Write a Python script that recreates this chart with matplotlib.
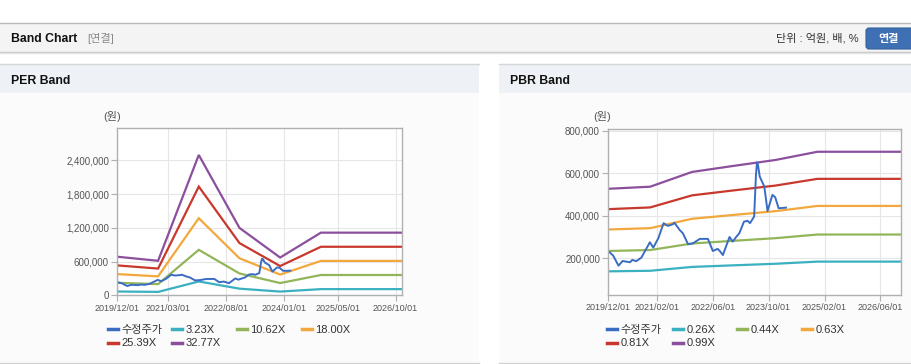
import matplotlib
matplotlib.use('Agg')
import matplotlib.pyplot as plt
import numpy as np
import matplotlib.dates as mdates
from matplotlib.patches import Rectangle, FancyBboxPatch
from matplotlib.lines import Line2D
from matplotlib.ticker import FuncFormatter

FONT = ['Liberation Sans', 'Noto Sans CJK KR', 'DejaVu Sans']
plt.rcParams['font.family'] = FONT

# ---------------- data ----------------
price_dates = ['2019-12-01', '2020-01-13', '2020-02-28', '2020-04-04', '2020-06-07', '2020-06-28',
               '2020-08-01', '2020-09-15', '2020-11-28', '2020-12-28', '2021-02-10', '2021-03-28',
               '2021-05-04', '2021-06-18', '2021-07-01', '2021-08-15', '2021-09-12', '2021-10-28',
               '2021-12-10', '2022-02-07', '2022-04-20', '2022-06-01', '2022-07-13', '2022-08-01',
               '2022-08-28', '2022-10-25', '2022-11-22', '2022-12-22', '2023-01-19', '2023-02-28',
               '2023-04-01', '2023-04-22', '2023-05-28', '2023-06-13', '2023-06-22', '2023-06-28',
               '2023-07-16', '2023-08-25', '2023-09-22', '2023-11-04', '2023-11-28', '2023-12-28',
               '2024-03-01']
price = [234000, 212000, 165000, 187000, 181000, 192000,
         186000, 203000, 275000, 250000, 294000, 365000,
         352000, 360000, 367000, 333000, 318000, 266000,
         270000, 291000, 291000, 234000, 244000, 234000,
         215000, 300000, 278000, 300000, 318000, 372000,
         376000, 365000, 396000, 592000, 651000, 647000,
         584000, 537000, 422000, 498000, 487000, 435000,
         438000]

base_dates = ['2019-12-01', '2020-12-01', '2021-12-01', '2022-12-01', '2023-12-01',
              '2024-12-01', '2026-12-01']
eps = [20960, 18740, 76230, 36620, 20510, 34030, 34030]
bps = [532000, 542000, 612000, 641000, 669000, 708000, 708000]

per_multiples = [3.23, 10.62, 18.00, 25.39, 32.77]
per_labels = ['3.23X', '10.62X', '18.00X', '25.39X', '32.77X']
pbr_multiples = [0.26, 0.44, 0.63, 0.81, 0.99]
pbr_labels = ['0.26X', '0.44X', '0.63X', '0.81X', '0.99X']
price_label = '수정주가'

per_xticks = ['2019-12-01', '2021-03-01', '2022-08-01', '2024-01-01', '2025-05-01', '2026-10-01']
pbr_xticks = ['2019-12-01', '2021-02-01', '2022-06-01', '2023-10-01', '2025-02-01', '2026-06-01']
per_yticks = [0, 600000, 1200000, 1800000, 2400000]
pbr_yticks = [200000, 400000, 600000, 800000]

price_color = '#3b6cc4'
band_colors = ['#3bb0c0', '#93b55a', '#f2a83c', '#c8382c', '#8c4f9e']

# ---------------- figure ----------------
W, H = 912, 364
fig = plt.figure(figsize=(W / 100, H / 100), dpi=100)
fig.patch.set_facecolor('white')

bg = fig.add_axes([0, 0, 1, 1], zorder=-10)
bg.set_xlim(0, W)
bg.set_ylim(H, 0)
bg.axis('off')

# header bar
bg.plot([0, W], [22.5, 22.5], color='#b8b8b8', lw=1)
bg.add_patch(Rectangle((0, 23), W, 29, fc='#f4f4f4', ec='none'))
bg.plot([0, W], [52.2, 52.2], color='#c4c4c4', lw=1)
bg.plot([0, W], [53.2, 53.2], color='#e4e4e4', lw=1)
bg.text(11, 38.5, 'Band Chart', fontsize=8.8, fontweight='bold', va='center', ha='left', color='#111')
bg.text(87, 38.5, '[연결]', fontsize=8, va='center', ha='left', color='#8a8a8a')
bg.text(859, 38.5, '단위 : 억원, 배, %', fontsize=8, va='center', ha='right', color='#333')
bg.add_patch(FancyBboxPatch((866, 28), 52, 21, boxstyle='round,pad=0,rounding_size=3',
                            fc='#3e70b3', ec='#35629f', lw=0.8))
bg.text(889, 38.8, '연결', fontsize=8, fontweight='bold', va='center', ha='center', color='white')

# panels
for x0, x1, title in [(0, 479, 'PER Band'), (499, W, 'PBR Band')]:
    bg.add_patch(Rectangle((x0, 64), x1 - x0, 298, fc='#fbfbfb', ec='none'))
    bg.add_patch(Rectangle((x0, 64), x1 - x0, 29, fc='#eef1f6', ec='none'))
    bg.plot([x0, x1], [64.3, 64.3], color='#d6d6d6', lw=1)
    bg.plot([x0, x1], [362.5, 362.5], color='#d0d0d0', lw=1)
    bg.text(x0 + 11.5, 80.5, title, fontsize=8.8, fontweight='bold', va='center', ha='left', color='#111')

bg.text(112, 117, '(원)', fontsize=8, va='center', ha='center', color='#555')
bg.text(602, 117, '(원)', fontsize=8, va='center', ha='center', color='#555')


def to_dates(lst):
    return np.array(lst, dtype='datetime64[D]')


def style_axes(ax, xticks, yticks, ylim):
    ax.set_facecolor('white')
    ax.set_xlim(to_dates(['2019-12-01'])[0], to_dates(['2026-12-01'])[0])
    ax.set_ylim(*ylim)
    ax.set_xticks(to_dates(xticks))
    ax.xaxis.set_major_formatter(mdates.DateFormatter('%Y/%m/%d'))
    ax.set_yticks(yticks)
    ax.yaxis.set_major_formatter(FuncFormatter(lambda v, p: f'{v:,.0f}'))
    ax.grid(True, color='#e6e6e6', lw=0.8)
    ax.set_axisbelow(True)
    for s in ax.spines.values():
        s.set_color('#b0b0b0')
        s.set_linewidth(1)
    ax.tick_params(axis='x', labelsize=6.5, colors='#b0b0b0', labelcolor='#555', length=4, pad=2)
    ax.tick_params(axis='y', labelsize=7, colors='#b0b0b0', labelcolor='#555', length=4, pad=2)


def add_legend(handles_labels, positions):
    for (h, l), (x, y) in zip(handles_labels, positions):
        fig.legend(handles=[h], labels=[l], loc='center left',
                   bbox_to_anchor=(x / W, 1 - y / H), frameon=False,
                   borderpad=0, borderaxespad=0, handlelength=0.9, handletextpad=0.3,
                   fontsize=8, labelcolor='#333')


# ---- PER axes ----
ax1 = fig.add_axes([117.3 / W, 1 - 295.3 / H, (402.3 - 117.3) / W, (295.3 - 128.3) / H])
style_axes(ax1, per_xticks, per_yticks, (0, 2973000))
bd = to_dates(base_dates)
pd_ = to_dates(price_dates)
for m, c in zip(per_multiples, band_colors):
    ax1.plot(bd, np.array(eps) * m, color=c, lw=1.6, solid_joinstyle='miter')
ax1.plot(pd_, price, color=price_color, lw=1.4)

# ---- PBR axes ----
ax2 = fig.add_axes([608.3 / W, 1 - 295 / H, (901 - 608.3) / W, (295 - 129) / H])
style_axes(ax2, pbr_xticks, pbr_yticks, (27000, 808000))
for m, c in zip(pbr_multiples, band_colors):
    ax2.plot(bd, np.array(bps) * m, color=c, lw=1.6, solid_joinstyle='miter')
ax2.plot(pd_, price, color=price_color, lw=1.4)

# ---- legends ----
def mk(c):
    return Line2D([], [], color=c, lw=2.5)

per_entries = [(mk(price_color), price_label)] + [(mk(c), l) for c, l in zip(band_colors, per_labels)]
per_pos = [(108, 330), (172, 330), (237, 330), (302, 330), (108, 343.5), (172, 343.5)]
add_legend(per_entries, per_pos)

pbr_entries = [(mk(price_color), price_label)] + [(mk(c), l) for c, l in zip(band_colors, pbr_labels)]
pbr_pos = [(607, 330), (673, 330), (737, 330), (802, 330), (607, 343.5), (673, 343.5)]
add_legend(pbr_entries, pbr_pos)

fig.savefig('out.png', dpi=100, facecolor='white')
